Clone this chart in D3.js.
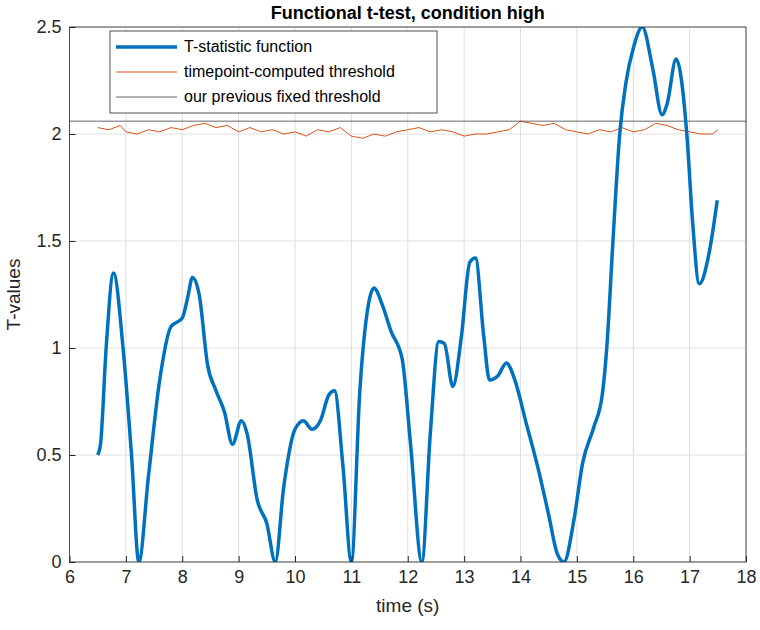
<!DOCTYPE html>
<html><head><meta charset="utf-8">
<script src="https://cdn.jsdelivr.net/npm/d3@7"></script>
<style>body{margin:0;background:#fff}svg{font-family:"Liberation Sans",Arial,sans-serif}</style>
</head><body><svg width="760" height="630"></svg>
<script>
// blue T-statistic curve
var tX = [6.5,6.55,6.65,6.78,6.95,7.1,7.23,7.4,7.6,7.8,7.9,8.0,8.1,8.18,8.3,8.45,8.6,8.75,8.89,9.05,9.15,9.33,9.5,9.65,9.8,10.0,10.15,10.3,10.45,10.6,10.7,10.85,11.0,11.15,11.3,11.4,11.55,11.7,11.9,12.05,12.25,12.4,12.55,12.65,12.8,12.95,13.1,13.2,13.35,13.45,13.6,13.75,13.9,14.1,14.3,14.5,14.65,14.77,14.95,15.1,15.3,15.45,15.53,15.64,15.76,15.87,16.0,16.16,16.35,16.51,16.6,16.76,16.95,17.05,17.17,17.35,17.49];
var tY = [0.5,0.55,1.0,1.35,1.0,0.5,0.0,0.4,0.85,1.1,1.12,1.14,1.24,1.33,1.25,0.92,0.8,0.7,0.55,0.66,0.6,0.29,0.18,0.0,0.35,0.62,0.66,0.62,0.66,0.78,0.8,0.45,0.0,0.8,1.2,1.28,1.2,1.08,0.95,0.55,0.0,0.6,1.03,1.02,0.82,1.05,1.4,1.42,1.05,0.85,0.87,0.93,0.85,0.65,0.45,0.22,0.04,0.0,0.2,0.46,0.63,0.78,1.0,1.5,2.0,2.24,2.4,2.5,2.3,2.09,2.14,2.35,2.0,1.6,1.3,1.45,1.69];
// orange timepoint-computed threshold
var thrX = [6.5,6.7,6.9,7.0,7.2,7.4,7.6,7.8,8.0,8.2,8.4,8.6,8.8,9.0,9.2,9.4,9.6,9.8,10.0,10.2,10.4,10.6,10.8,11.0,11.2,11.4,11.6,11.8,12.0,12.2,12.4,12.6,12.8,13.0,13.2,13.4,13.6,13.8,14.0,14.2,14.4,14.6,14.8,15.0,15.2,15.4,15.6,15.8,16.0,16.2,16.4,16.6,16.8,17.0,17.2,17.4,17.5];
var thrY = [2.03,2.02,2.04,2.01,2.0,2.02,2.01,2.03,2.02,2.04,2.05,2.03,2.04,2.01,2.03,2.01,2.02,2.0,2.01,1.99,2.02,2.01,2.03,1.99,1.98,2.0,1.99,2.01,2.02,2.03,2.01,2.02,2.01,1.99,2.0,2.0,2.01,2.02,2.06,2.05,2.04,2.05,2.02,2.01,2.0,2.02,2.01,2.03,2.01,2.02,2.05,2.04,2.02,2.01,2.0,2.0,2.02];
var fixedThr = 2.06;
var xTicks = [6,7,8,9,10,11,12,13,14,15,16,17,18];
var yTicks = [0,0.5,1,1.5,2,2.5];

var svg = d3.select("svg");
var L=69.5,R=746,T=27,B=562;
var x = d3.scaleLinear().domain([6,18]).range([L,R]);
var y = d3.scaleLinear().domain([0,2.5]).range([B,T]);

// grid
svg.append("g").selectAll("line").data(xTicks).enter().append("line")
  .attr("x1",x).attr("x2",x).attr("y1",T).attr("y2",B).attr("stroke","#dfdfdf");
svg.append("g").selectAll("line").data(yTicks).enter().append("line")
  .attr("y1",y).attr("y2",y).attr("x1",L).attr("x2",R).attr("stroke","#dfdfdf");

svg.append("defs").append("clipPath").attr("id","c").append("rect")
  .attr("x",L).attr("y",T).attr("width",R-L).attr("height",B-T);
var g = svg.append("g").attr("clip-path","url(#c)");

var line = d3.line().x(function(d){return x(d[0]);}).y(function(d){return y(d[1]);});
g.append("path").datum(thrX.map(function(v,i){return [v,thrY[i]];}))
  .attr("d",line).attr("fill","none").attr("stroke","#d95319").attr("stroke-width",1);
g.append("line").attr("x1",L).attr("x2",R).attr("y1",y(fixedThr)).attr("y2",y(fixedThr))
  .attr("stroke","#404040").attr("stroke-width",0.8);
g.append("path").datum(tX.map(function(v,i){return [v,tY[i]];}))
  .attr("d",line.curve(d3.curveMonotoneX)).attr("fill","none").attr("stroke","#0072bd").attr("stroke-width",3.5);

// box & axes
svg.append("rect").attr("x",L).attr("y",T).attr("width",R-L).attr("height",B-T)
  .attr("fill","none").attr("stroke","#262626").attr("stroke-width",0.8);
var xa = svg.append("g").attr("transform","translate(0,"+B+")")
  .call(d3.axisBottom(x).tickValues(xTicks).tickSize(-6).tickPadding(8).tickFormat(d3.format("d")));
var ya = svg.append("g").attr("transform","translate("+L+",0)")
  .call(d3.axisLeft(y).tickValues(yTicks).tickSize(-6).tickPadding(8).tickFormat(function(d){return d;}));
[xa,ya].forEach(function(a){
  a.select(".domain").remove();
  a.selectAll("line").attr("stroke","#262626");
  a.selectAll("text").attr("font-size",18).attr("fill","#262626").attr("font-family","'Liberation Sans',Arial,sans-serif");
});
svg.append("text").attr("x",(L+R)/2).attr("y",612).attr("text-anchor","middle")
  .attr("font-size",19).attr("fill","#262626").text("time (s)");
svg.append("text").attr("transform","translate(20,"+((T+B)/2)+") rotate(-90)").attr("text-anchor","middle")
  .attr("font-size",19).attr("fill","#262626").text("T-values");
svg.append("text").attr("x",(L+R)/2).attr("y",19).attr("text-anchor","middle")
  .attr("font-size",18).attr("font-weight","bold").attr("fill","#000").text("Functional t-test, condition high");

// legend
var lg = svg.append("g");
lg.append("rect").attr("x",110).attr("y",31).attr("width",327).attr("height",82)
  .attr("fill","#fff").attr("stroke","#262626").attr("stroke-width",0.8);
var items = [["T-statistic function","#0072bd",3.5],["timepoint-computed threshold","#d95319",1],["our previous fixed threshold","#404040",0.8]];
items.forEach(function(it,i){
  var yy = 47+i*25;
  lg.append("line").attr("x1",116).attr("x2",177).attr("y1",yy).attr("y2",yy).attr("stroke",it[1]).attr("stroke-width",it[2]);
  lg.append("text").attr("x",184).attr("y",yy+5).attr("font-size",16).attr("fill","#000").text(it[0]);
});
</script></body></html>
